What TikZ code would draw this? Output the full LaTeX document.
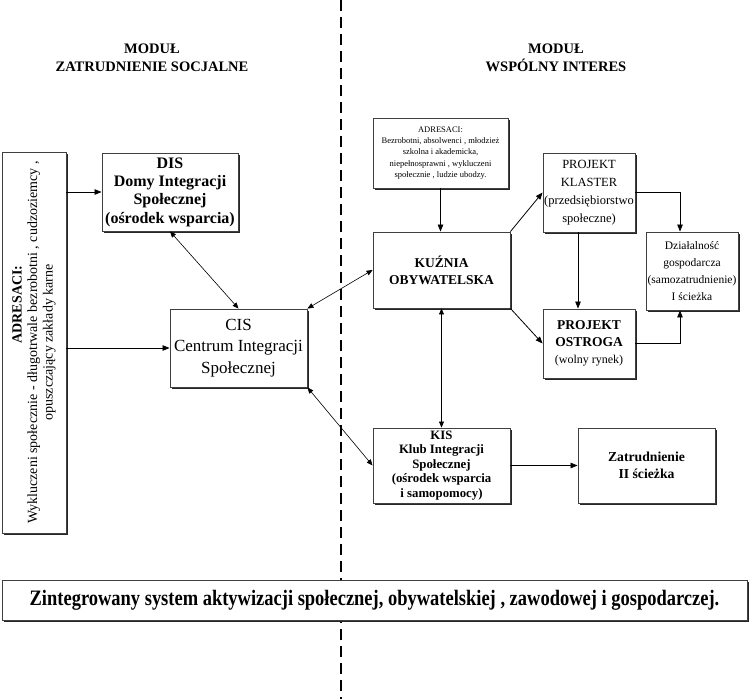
\documentclass[tikz,border=0pt]{standalone}
\usepackage{fontspec}
\setmainfont{Liberation Serif}
\usetikzlibrary{arrows.meta,shadows}
\newcommand\fs[2]{\fontsize{#1}{#2}\selectfont}
\begin{document}
\begin{tikzpicture}[x=1pt,y=-1pt,
  box/.style={draw=black!75, line width=0.9pt, fill=white,
    drop shadow={shadow xshift=2pt, shadow yshift=-2pt, fill=black!85, opacity=1},
    align=center, inner sep=0pt},
  arr/.style={-{Triangle[length=7pt,width=5.5pt]}, line width=0.8pt},
  darr/.style={{Triangle[length=6pt,width=5pt]}-{Triangle[length=6pt,width=5pt]}, line width=0.6pt},
  head/.style={align=center, font=\fs{14.5}{18}\bfseries, inner sep=0pt},
  divider/.style={line width=1.8pt, dash pattern=on 11pt off 6pt}
]
\useasboundingbox (0,0) rectangle (749,699);
\coordinate (dtop) at (341,0);
\coordinate (dbot) at (341,699);
\draw[divider] (dtop) -- (dbot);

\node[head] (hl) at (152,58) {MODUŁ\\ZATRUDNIENIE SOCJALNE};
\node[head] (hr) at (556,58) {MODUŁ\\WSPÓLNY INTERES};

\node[box, minimum width=64pt, minimum height=381pt] (leftbox) at (34,342.5) {};
\node[rotate=90, align=center, font=\fs{14}{15.5}, inner sep=0pt] (lefttext) at (leftbox.center)
  {\hspace*{76pt}\textbf{ADRESACI:}\\Wykluczeni społecznie - długotrwale bezrobotni , cudzoziemcy ,\\opuszczający zakłady karne};

\node[box, minimum width=136pt, minimum height=78pt, font=\fs{16}{18.3}\bfseries] (DIS) at (170,192)
  {DIS\\Domy Integracji\\Społecznej\\(ośrodek wsparcia)};
\node[box, minimum width=137pt, minimum height=78pt, font=\fs{17}{21.5}] (CIS) at (238.5,348)
  {CIS\\Centrum Integracji\\Społecznej};
\node[box, minimum width=135pt, minimum height=70pt, font=\fs{8.5}{11.2}] (ADR) at (440.5,153)
  {ADRESACI:\\Bezrobotni, absolwenci , młodzież\\szkolna i akademicka,\\niepełnosprawni , wykluczeni\\społecznie , ludzie ubodzy.};
\node[box, minimum width=137pt, minimum height=76pt, font=\fs{13.5}{17}\bfseries] (KUZ) at (441.5,270)
  {KUŹNIA\\OBYWATELSKA};
\node[box, minimum width=92pt, minimum height=79pt, font=\fs{12.5}{18}] (KLA) at (589,192.5)
  {PROJEKT\\KLASTER\\(przedsiębiorstwo\\społeczne)};
\node[box, minimum width=92pt, minimum height=78pt, font=\fs{11.5}{17}] (DZI) at (692,271)
  {Działalność\\gospodarcza\\(samozatrudnienie)\\I ścieżka};
\node[box, minimum width=92pt, minimum height=69pt, font=\fs{13.5}{17}] (OST) at (589,343.5)
  {\textbf{PROJEKT}\\\textbf{OSTROGA}\\{\fs{12}{17}(wolny rynek)}};
\node[box, minimum width=137pt, minimum height=75pt, font=\fs{12.8}{14.5}\bfseries] (KIS) at (441.5,465.5)
  {KIS\\Klub Integracji\\Społecznej\\(ośrodek wsparcia\\i samopomocy)};
\node[box, minimum width=137pt, minimum height=75pt, font=\fs{13.7}{17}\bfseries] (ZAT) at (646.5,465.5)
  {Zatrudnienie\\II ścieżka};
\node[box, minimum width=745pt, minimum height=40pt, font=\fs{22}{24}\bfseries] (BAN) at (374.5,600)
  {\scalebox{0.84}[1]{Zintegrowany system aktywizacji społecznej, obywatelskiej , zawodowej i gospodarczej.}};

\draw[arr] (leftbox.east |- DIS.west) -- (DIS.west);
\draw[arr] (leftbox.east |- CIS.west) -- (CIS.west);
\draw[darr] (DIS.south) -- (CIS.north);
\draw[darr] (CIS.north east) -- (KUZ.west);
\draw[darr] (CIS.south east) -- (KIS.west);
\draw[arr] (ADR.south) -- (ADR.south |- KUZ.north);
\draw[arr] (KUZ.north east) -- (KLA.west);
\draw[arr] (KUZ.south east) -- (OST.west);
\draw[darr] (KUZ.south) -- (KIS.north);
\draw[arr] (KLA.east) -| ([xshift=-12pt]DZI.north);
\draw[arr] ([xshift=-11pt]KLA.south) -- ([xshift=-11pt]OST.north);
\draw[arr] (OST.east) -| ([xshift=-12pt]DZI.south);
\draw[arr] (KIS.east) -- (ZAT.west);
\end{tikzpicture}
\end{document}
